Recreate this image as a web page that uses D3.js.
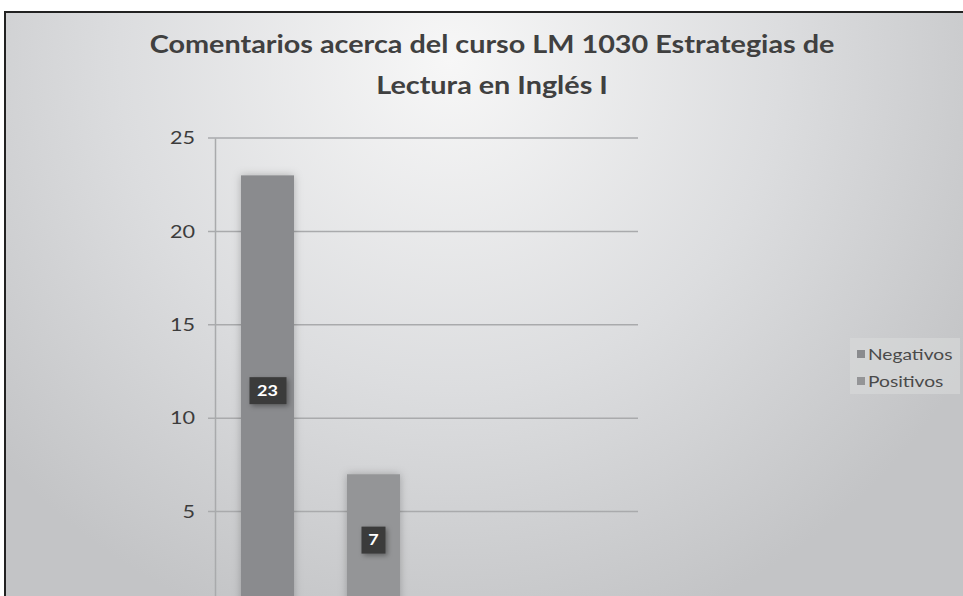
<!DOCTYPE html>
<html>
<head>
<meta charset="utf-8">
<script src="https://cdn.jsdelivr.net/npm/d3@7"></script>
<style>
  body { margin: 0; background: #fff; }
  svg { display: block; }
</style>
</head>
<body>
<svg id="chart" width="963" height="596"></svg>
<script>
// chart data
var titleLines = ["Comentarios acerca del curso LM 1030 Estrategias de", "Lectura en Inglés I"];
var series = ["Negativos", "Positivos"];
var values = [23, 7];
var barColors = ["#8a8b8e", "#949597"];
var tickValues = [5, 10, 15, 20, 25];

var font = "Lato, 'Open Sans', sans-serif";
var stretch = 1.2; // the source picture is stretched sideways

var svg = d3.select("#chart");
var defs = svg.append("defs");

// background gradient (light top centre, grey edges)
var bg = defs.append("radialGradient").attr("id", "bg")
    .attr("gradientUnits", "userSpaceOnUse")
    .attr("cx", 450).attr("cy", 60).attr("r", 600);
bg.append("stop").attr("offset", "0%").attr("stop-color", "#f7f7f7");
bg.append("stop").attr("offset", "55%").attr("stop-color", "#dcdddf");
bg.append("stop").attr("offset", "100%").attr("stop-color", "#c3c4c6");

var sh = defs.append("filter").attr("id", "shadow")
    .attr("x", "-30%").attr("y", "-30%").attr("width", "160%").attr("height", "160%");
sh.append("feDropShadow").attr("dx", 2).attr("dy", 2).attr("stdDeviation", 2.5)
    .attr("flood-color", "#000").attr("flood-opacity", 0.35);

var bsh = defs.append("filter").attr("id", "barshadow")
    .attr("x", "-30%").attr("y", "-10%").attr("width", "160%").attr("height", "130%");
bsh.append("feDropShadow").attr("dx", 0).attr("dy", 0).attr("stdDeviation", 4)
    .attr("flood-color", "#000").attr("flood-opacity", 0.25);

// frame
svg.append("rect").attr("x", 5).attr("y", 12).attr("width", 970).attr("height", 600)
    .attr("fill", "url(#bg)").attr("stroke", "#222").attr("stroke-width", 2);

// title
svg.append("g").selectAll("text").data(titleLines).enter().append("text")
    .attr("transform", function (d, i) {
        return "translate(492," + (53 + i * 41) + ") scale(" + stretch + ",1)";
    })
    .attr("text-anchor", "middle")
    .attr("font-family", font)
    .attr("font-weight", "bold").attr("font-size", 24)
    .attr("fill", "#404040")
    .text(function (d) { return d; });

// scales
var x0 = 215, x1 = 638;
var y = d3.scaleLinear().domain([0, 25]).range([605, 138]);
var x = d3.scaleBand().domain(series).range([x0 + 26, x0 + 185]).paddingInner(0.5);

// gridlines
svg.append("g").selectAll("line").data(tickValues).enter().append("line")
    .attr("x1", x0 - 7).attr("x2", x1)
    .attr("y1", function (d) { return y(d); }).attr("y2", function (d) { return y(d); })
    .attr("stroke", "#a9aaac").attr("stroke-width", 1.5);

// y axis
var yAxis = d3.axisLeft(y).tickValues(tickValues).tickSize(0).tickPadding(0);
var ga = svg.append("g").attr("transform", "translate(" + x0 + ",0)").call(yAxis);
ga.select(".domain").attr("stroke", "#a9aaac").attr("stroke-width", 1.5);
ga.selectAll(".tick text")
    .attr("x", 0)
    .attr("transform", "translate(-20,0) scale(" + stretch + ",1)")
    .attr("font-family", font)
    .attr("font-size", 18).attr("fill", "#3c3c3c");

// bars
svg.append("g").selectAll("rect").data(values).enter().append("rect")
    .attr("x", function (d, i) { return x(series[i]); })
    .attr("y", function (d) { return y(d); })
    .attr("width", x.bandwidth())
    .attr("height", function (d) { return y(0) - y(d); })
    .attr("fill", function (d, i) { return barColors[i]; })
    .attr("filter", "url(#barshadow)");

// data labels
var lab = svg.append("g").selectAll("g").data(values).enter().append("g")
    .attr("transform", function (d, i) {
        return "translate(" + (x(series[i]) + x.bandwidth() / 2) + "," + ((y(d) + y(0)) / 2) + ")";
    });
lab.append("rect")
    .attr("x", function (d) { return String(d).length > 1 ? -18 : -12; })
    .attr("width", function (d) { return String(d).length > 1 ? 37 : 24; })
    .attr("y", -13).attr("height", 27)
    .attr("fill", "#3a3a3b").attr("filter", "url(#shadow)");
lab.append("text").attr("text-anchor", "middle").attr("dy", "0.36em")
    .attr("transform", "scale(" + stretch + ",1)")
    .attr("font-family", font)
    .attr("font-weight", "bold").attr("font-size", 15).attr("fill", "#fff")
    .text(function (d) { return d; });

// legend
svg.append("rect").attr("x", 850).attr("y", 338).attr("width", 110).attr("height", 56)
    .attr("fill", "#d9dadb").attr("opacity", 0.6);
var leg = svg.append("g").selectAll("g").data(series).enter().append("g")
    .attr("transform", function (d, i) { return "translate(857," + (354 + i * 27) + ")"; });
leg.append("rect").attr("x", 0).attr("y", -4).attr("width", 8).attr("height", 8)
    .attr("fill", function (d, i) { return barColors[i]; });
leg.append("text").attr("dy", "0.36em")
    .attr("transform", "translate(11,0) scale(" + stretch + ",1)")
    .attr("font-family", font)
    .attr("font-size", 16).attr("fill", "#4a4a4a")
    .text(function (d) { return d; });
</script>
</body>
</html>
